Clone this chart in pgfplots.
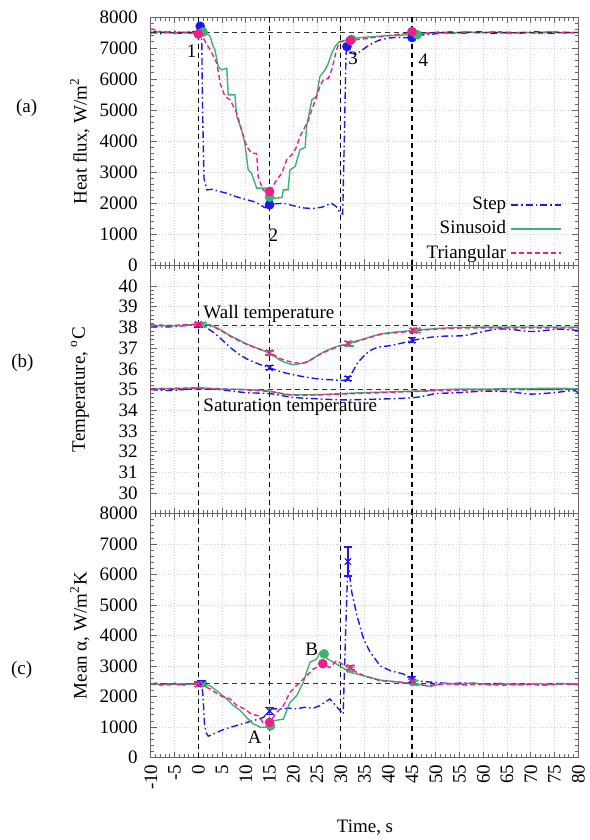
\documentclass[border=0pt]{standalone}
\usepackage{fontspec}
\setmainfont{Liberation Serif}
\usepackage{pgfplots}
\pgfplotsset{compat=1.18}

\definecolor{cstep}{RGB}{25,25,240}
\definecolor{csin}{RGB}{60,180,110}
\definecolor{ctri}{RGB}{240,30,140}

\pgfplotsset{
  panel/.style={
    scale only axis, width=213.75pt,
    xmin=-10, xmax=80, xtick={-10,-5,...,80}, minor x tick num=4, minor y tick num=4,
    tick align=inside,
    axis line style={gray!80!black},
    every tick/.style={gray!80!black, line width=0.4pt},
    major tick length=3pt, minor tick length=1.8pt,
    grid=major, major grid style={densely dotted, gray!35, line width=0.3pt},
    ylabel style={at={(axis description cs:-0.166,0.5)}, anchor=center},
    tick label style={font=\fontsize{9.5}{11}\selectfont},
    label style={font=\fontsize{9.5}{11}\selectfont},
    /pgf/number format/assume math mode=true,
    /pgf/number format/1000 sep={},
    scaled y ticks=false,
    yticklabel style={xshift=-3pt},
  },
  stepl/.style={cstep, line width=0.7pt, dash pattern=on 3.5pt off 1.5pt on 0.8pt off 1.5pt},
  sinl/.style={csin, line width=0.7pt, solid},
  tril/.style={ctri, line width=0.7pt, dash pattern=on 2.5pt off 1.5pt},
  guide/.style={black, line width=0.65pt, dash pattern=on 2.5pt off 2pt},
  hguide/.style={black!80, line width=0.5pt, dash pattern=on 2.5pt off 2pt},
  ebar/.style={error bars/.cd, y dir=both, y explicit, error bar style={line width=0.6pt}, error mark options={rotate=90, mark size=2.2pt, line width=0.6pt}},
}

\begin{document}
\begin{tikzpicture}
\useasboundingbox (0,0) rectangle (294.5pt,-420pt);

% ---------------- (a) heat flux
\begin{axis}[panel, at={(75.4pt,-132.65pt)}, anchor=south west, height=124.15pt,
  ymin=0, ymax=8000, ytick={0,1000,...,8000}, xticklabels={},
  ylabel={Heat flux, W/m\textsuperscript{2}},
  legend style={at={(axis cs:77,2400)}, anchor=north east, draw=none, fill=none,
    font=\fontsize{9.5}{11}\selectfont, row sep=0pt, inner sep=1pt},
  legend cell align=right, legend plot pos=right,
  legend image code/.code={\draw[#1] plot coordinates {(0pt,0pt) (25pt,0pt)};},
]
\addplot[stepl] coordinates {
(-10,7480) (-9,7530) (-8,7460) (-7,7520) (-6,7490) (-5,7540) (-4,7470) (-3,7510) (-2,7480) (-1,7530)
(0,7520) (0.4,7700) (0.7,7600) (0.9,5000) (1.2,2800) (1.8,2430) (3,2450) (4,2400) (6,2320) (8,2210)
(10,2120) (12,2040) (14,1860) (15,1950) (16,1980) (18,2000) (20,1920) (22,1850) (24,1830) (26,1870)
(28,2000) (29,1900) (29.8,1700) (30.4,1650) (30.8,4500) (31.1,6800) (31.3,7050) (32,6850) (33,6800)
(34,6880) (36,7100) (38,7250) (40,7320) (42,7350) (44,7330) (45,7340) (47,7420) (50,7460) (53,7520)
(56,7480) (59,7530) (62,7470) (65,7510) (68,7480) (71,7530) (74,7470) (77,7510) (80,7490)};
\addlegendentry{Step}
\addplot[sinl] coordinates {
(-10,7520) (-9,7470) (-8,7540) (-7,7480) (-6,7510) (-5,7460) (-4,7520) (-3,7490) (-2,7530) (-1,7480)
(0,7500) (1,7515) (2,7450) (2.5,7375) (3,7100) (3.5,6945) (4.2,6400) (4.9,6300) (6.0,6350) (6.3,5490)
(7.7,5490) (8.1,4795) (9.1,4365) (9.8,3935) (10.5,3075) (11.2,2970) (12.3,2485) (14.4,2485) (15,2195)
(15.8,2160) (17.6,2180) (17.9,2430) (18.9,2430) (19.3,3075) (20.4,3185) (21.4,3720) (22.5,3800)
(22.8,4470) (23.9,5330) (24.9,5450) (25.6,6085) (26.7,6300) (27.4,6515) (28.1,6840) (28.8,7050)
(29.5,7180) (31,7250) (32,7300) (35,7350) (40,7400) (45,7430) (46,7450) (50,7500) (53,7470) (56,7530)
(59,7490) (62,7520) (65,7470) (68,7510) (71,7490) (74,7530) (77,7480) (80,7510)};
\addlegendentry{Sinusoid}
\addplot[tril] coordinates {
(-10,7600) (-9.5,7610) (-9,7560) (-8,7520) (-7,7500) (-6,7530) (-5,7480) (-4,7510) (-3,7500) (-2,7470)
(-1,7490) (0,7450) (1,7350) (1.8,7105) (2.5,6945) (3.9,6515) (4.6,5870) (5.6,5440) (6.7,5330) (8.1,4900)
(9.1,4365) (10.2,3825) (11.2,3615) (12.3,3600) (12.6,2860) (13.6,2430) (15,2375) (16.5,2750) (17.6,2970)
(18.6,3400) (20,3615) (20.7,3825) (21.4,4150) (22.5,4470) (23.2,4690) (23.9,5010) (24.9,5440) (25.6,5760)
(26.3,5975) (27.4,6030) (28.1,6300) (29.1,6945) (29.8,7210) (32,7245) (35,7300) (40,7400) (45,7500)
(48,7480) (51,7520) (54,7470) (57,7510) (60,7490) (63,7530) (66,7480) (69,7500) (72,7470) (75,7520) (78,7490) (80,7500)};
\addlegendentry{Triangular}
\addplot[guide, forget plot] coordinates {(0,0) (0,8000)};
\addplot[guide, forget plot] coordinates {(15,0) (15,8000)};
\addplot[guide, forget plot] coordinates {(30,0) (30,8000)};
\addplot[guide, forget plot] coordinates {(45,0) (45,8000)};
\addplot[hguide, forget plot] coordinates {(-10,7500) (80,7500)};
\addplot[only marks, mark=*, mark size=2.2pt, cstep, forget plot] coordinates {(0.4,7700) (15,1950) (31.3,7050) (45,7340)};
\addplot[only marks, mark=*, mark size=2.2pt, csin, forget plot] coordinates {(1.0,7515) (15,2195) (32.3,7280) (46.1,7430)};
\addplot[only marks, mark=*, mark size=2.2pt, ctri, forget plot] coordinates {(0,7450) (15,2375) (32,7245) (45,7530)};
\node[font=\fontsize{9.5}{11}\selectfont] at (axis cs:-1.4,6890) {1};
\node[font=\fontsize{9.5}{11}\selectfont] at (axis cs:15.8,980) {2};
\node[font=\fontsize{9.5}{11}\selectfont] at (axis cs:32.6,6680) {3};
\node[font=\fontsize{9.5}{11}\selectfont] at (axis cs:47.4,6620) {4};
\end{axis}

% ---------------- (b) temperature
\begin{axis}[panel, at={(75.4pt,-256.85pt)}, anchor=south west, height=124.2pt,
  ymin=29, ymax=41, ytick={30,31,...,40}, xticklabels={},
  ylabel={Temperature, \textsuperscript{o}C},
]
\addplot[guide] coordinates {(0,29) (0,41)};
\addplot[guide] coordinates {(15,29) (15,41)};
\addplot[guide] coordinates {(30,29) (30,41)};
\addplot[guide] coordinates {(45,29) (45,41)};
\addplot[hguide] coordinates {(-10,38.1) (80,38.1)};
\addplot[hguide] coordinates {(-10,35.0) (80,35.0)};
% wall
\addplot[stepl, smooth] coordinates {
(-10,38.08) (-7,38.02) (-5,38.05) (-3,38.08) (0,38.12) (1.5,38.0) (3.2,37.76) (5,37.4) (6.7,37.04)
(8.5,36.72) (10.2,36.48) (12.5,36.25) (15,36.05) (17.5,35.85) (20.7,35.68) (24.9,35.52) (28,35.47)
(30.5,35.44) (31.5,35.52) (32.5,35.85) (33.4,36.24) (35,36.65) (36.2,36.88) (38,37.05) (40.4,37.12)
(43,37.25) (45.3,37.38) (48.8,37.52) (52,37.58) (55.8,37.6) (59,37.75) (62.8,37.92) (66,37.9)
(69.8,37.8) (73,37.85) (76,37.92) (80,37.85)};
\addplot[sinl, smooth] coordinates {
(-10,38.1) (-5,38.08) (0,38.15) (2,38.15) (3.2,38.05) (5,37.85) (6.7,37.6) (8.5,37.4) (10.2,37.2)
(12.5,36.98) (15,36.75) (17.2,36.42) (19,36.25) (20,36.2) (21.5,36.25) (22.8,36.32) (24.5,36.55)
(26.3,36.8) (28,36.98) (29.8,37.12) (31.5,37.2) (33,37.32) (34.8,37.44) (36.5,37.56) (38.3,37.68)
(41.8,37.78) (45.3,37.85) (48.8,37.92) (55,38.0) (65,38.02) (80,38.02)};
\addplot[tril, smooth] coordinates {
(-10,38.12) (-5,38.1) (0,38.15) (3.2,38.03) (6.7,37.58) (10.2,37.18) (15,36.78) (17.2,36.5) (19.5,36.33)
(21,36.28) (22.8,36.33) (24.5,36.55) (26.3,36.78) (29.8,37.1) (31.5,37.2) (34.8,37.42) (38.3,37.66)
(41.8,37.75) (45.3,37.82) (48.8,37.9) (55,37.97) (65,37.98) (80,37.97)};
% saturation
\addplot[stepl, smooth] coordinates {
(-10,35.0) (-7,34.95) (-4,34.98) (0,35.05) (5,34.98) (10,34.85) (15,34.8) (20,34.62) (25,34.55)
(30,34.5) (35,34.52) (40,34.55) (45,34.6) (48,34.7) (50,34.8) (55,34.85) (60,34.92) (65,34.9)
(70,34.78) (75,34.85) (79,34.95) (80,34.82)};
\addplot[sinl, smooth] coordinates {
(-10,35.05) (-5,35.05) (0,35.08) (5,35.02) (10,35.0) (15,34.92) (18,34.78) (20,34.75) (25,34.75)
(30,34.8) (35,34.85) (40,34.88) (45,34.92) (48,34.92) (50,34.98) (55,35.02) (60,35.02) (70,35.05) (80,35.05)};
\addplot[tril, smooth] coordinates {
(-10,35.03) (0,35.06) (10,34.98) (15,34.9) (20,34.73) (25,34.74) (30,34.78) (40,34.86) (45,34.9)
(50,34.95) (60,34.98) (80,35.0)};
% markers
\addplot[only marks, mark=x, mark size=2.2pt, cstep, line width=0.6pt, ebar] coordinates {
(0,38.12) +- (0,0.1) (15,36.05) +- (0,0.1) (31.5,35.52) +- (0,0.1) (45,37.38) +- (0,0.12)};
\addplot[only marks, mark=x, mark size=2.2pt, csin, line width=0.6pt, ebar] coordinates {
(1,38.13) +- (0,0.1) (15,36.76) +- (0,0.1) (31.8,37.2) +- (0,0.1) (46,37.85) +- (0,0.1)};
\addplot[only marks, mark=x, mark size=2.2pt, ctri, line width=0.6pt, ebar] coordinates {
(0,38.15) +- (0,0.1) (15,36.78) +- (0,0.1) (31.5,37.22) +- (0,0.1) (45.3,37.85) +- (0,0.1)};
\node[anchor=west, font=\fontsize{9.5}{11}\selectfont, inner sep=0pt] at (axis cs:1.0,38.63) {Wall temperature};
\node[anchor=west, font=\fontsize{9.5}{11}\selectfont, inner sep=0pt] at (axis cs:1.0,34.12) {Saturation temperature};
\end{axis}

% ---------------- (c) mean alpha
\begin{axis}[panel, at={(75.4pt,-378.75pt)}, anchor=south west, height=121.9pt,
  ymin=0, ymax=8000, ytick={0,1000,...,8000},
  xticklabel style={rotate=90, anchor=east},
  ylabel={Mean α, W/m\textsuperscript{2}K},
  xlabel={Time, s},
  xlabel style={at={(axis description cs:0.501,-0.289)}, anchor=center},
]
\addplot[guide] coordinates {(0,0) (0,8000)};
\addplot[guide] coordinates {(15,0) (15,8000)};
\addplot[guide] coordinates {(30,0) (30,8000)};
\addplot[guide] coordinates {(45,0) (45,8000)};
\addplot[hguide] coordinates {(-10,2440) (80,2440)};
\addplot[stepl] coordinates {
(-10,2400) (-9,2440) (-8,2380) (-7,2420) (-6,2390) (-5,2440) (-4,2400) (-3,2380) (-2,2420) (-1,2400)
(0,2420) (0.7,2450) (1.0,2000) (1.3,1100) (1.7,800) (2.1,700) (3,760) (3.9,820) (5,900) (6.7,990)
(8.5,1070) (10.2,1150) (12,1230) (13.7,1315) (15,1530) (15.5,1600) (17.2,1590) (19,1620) (20.7,1600)
(22.5,1650) (24.2,1620) (25.6,1700) (27,1850) (27.7,1920) (28.5,1780) (29.5,1600) (30.5,1425) (31,4000)
(31.5,6420) (32.3,5430) (33.4,4660) (34.8,3890) (36.2,3450) (38.3,3010) (40.4,2850) (43.2,2740)
(45,2550) (47,2500) (50,2460) (53,2420) (56,2450) (60,2400) (63,2440) (66,2390) (70,2420) (73,2380)
(76,2430) (80,2400)};
\addplot[sinl] coordinates {
(-10,2420) (-8,2400) (-6,2380) (-4,2420) (-2,2400) (0,2420) (1,2420) (2.5,2350) (3.9,2190) (6,1920)
(7.4,1700) (8.8,1550) (10.5,1260) (11.6,1095) (12.6,1040) (13,990) (14.5,1000) (15,1060) (15.8,1205)
(17.9,1260) (19.3,1810) (20.7,2030) (22.1,2470) (23.5,3125) (24.9,3235) (25.6,3450) (26.5,3420)
(27,3250) (29.1,3070) (32,2795) (34.8,2685) (38.3,2540) (42,2480) (45.3,2430) (48.8,2330) (52,2440)
(55,2400) (58,2450) (61,2380) (65,2420) (68,2380) (71,2430) (75,2390) (78,2430) (80,2420)};
\addplot[tril] coordinates {
(-10,2420) (-8,2380) (-6,2420) (-4,2390) (-2,2430) (0,2400) (1,2350) (2.5,2250) (4.6,2030) (6.7,1920)
(8.1,1700) (9.8,1590) (11.2,1425) (12.6,1370) (13.6,1150) (15,1150) (16.5,1480) (17.9,1700) (19.3,2140)
(20.7,2360) (22.8,2685) (24.2,2905) (25.5,3000) (26.2,3070) (27.7,2950) (29.1,3180) (30.5,3050)
(32,2905) (34.8,2685) (38.3,2520) (42,2480) (45,2430) (48,2360) (52,2420) (56,2380) (60,2420)
(64,2370) (68,2410) (72,2380) (76,2420) (80,2400)};
\addplot[only marks, mark=x, mark size=2.2pt, cstep, line width=0.6pt, ebar] coordinates {
(0.7,2430) +- (0,80) (15,1530) +- (0,110) (31.5,6430) +- (0,475) (45,2560) +- (0,90)};
\addplot[only marks, mark=x, mark size=2.2pt, csin, line width=0.6pt, ebar] coordinates {
(1,2400) +- (0,70) (32,2880) +- (0,70) (45.5,2450) +- (0,70)};
\addplot[only marks, mark=x, mark size=2.2pt, ctri, line width=0.6pt, ebar] coordinates {
(0,2410) +- (0,70) (32,2950) +- (0,70) (45,2500) +- (0,70)};
\addplot[only marks, mark=*, mark size=2.2pt, csin] coordinates {(15.2,1040) (26.5,3400)};
\addplot[only marks, mark=*, mark size=2.2pt, ctri] coordinates {(15,1150) (26.2,3080)};
\node[font=\fontsize{9.5}{11}\selectfont] at (axis cs:11.9,660) {A};
\node[font=\fontsize{9.5}{11}\selectfont] at (axis cs:23.9,3560) {B};
\end{axis}

\node[font=\fontsize{9.5}{11}\selectfont] at (13.3pt,-54pt) {(a)};
\node[font=\fontsize{9.5}{11}\selectfont] at (11.2pt,-181.5pt) {(b)};
\node[font=\fontsize{9.5}{11}\selectfont] at (10.8pt,-335pt) {(c)};
\end{tikzpicture}
\end{document}
